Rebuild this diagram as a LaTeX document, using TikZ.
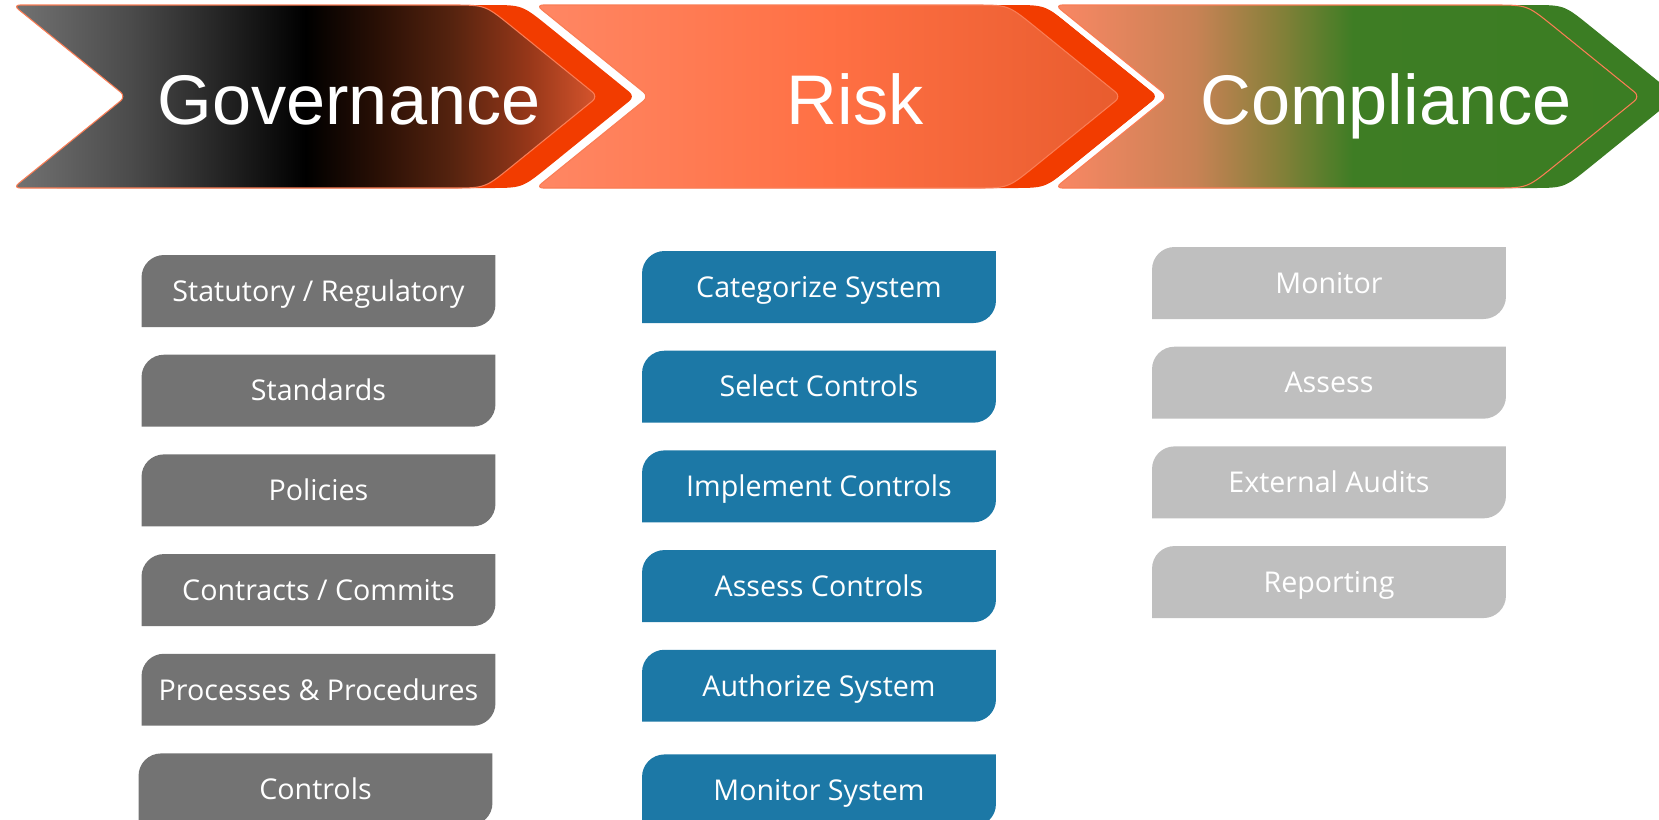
\documentclass[tikz,border=0pt]{standalone}
\usepackage{fontspec}
\setmainfont{Open Sans}
\newfontfamily\headfont{Liberation Sans}
\usetikzlibrary{positioning}

\definecolor{govback}{RGB}{242,60,0}
\definecolor{riskback}{RGB}{242,60,0}
\definecolor{compback}{RGB}{59,125,35}
\definecolor{chevline}{RGB}{250,125,85}
\definecolor{govfill}{RGB}{115,115,115}
\definecolor{riskfill}{RGB}{28,120,166}
\definecolor{compfill}{RGB}{191,191,191}

\pgfdeclarehorizontalshading{govshade}{100bp}{color(0bp)=(rgb,255:red,115;green,115;blue,115);
  color(25bp)=(rgb,255:red,115;green,115;blue,115); color(35bp)=(rgb,255:red,75;green,75;blue,75);
  color(45bp)=(rgb,255:red,25;green,25;blue,25); color(50bp)=(black);
  color(56bp)=(rgb,255:red,40;green,15;blue,5); color(62.5bp)=(rgb,255:red,85;green,35;blue,15);
  color(69bp)=(rgb,255:red,150;green,55;blue,25); color(75bp)=(rgb,255:red,215;green,85;blue,45);
  color(100bp)=(rgb,255:red,215;green,85;blue,45)}
\pgfdeclarehorizontalshading{riskshade}{100bp}{color(0bp)=(rgb,255:red,255;green,135;blue,100);
  color(25bp)=(rgb,255:red,255;green,135;blue,100); color(50bp)=(rgb,255:red,255;green,112;blue,68);
  color(75bp)=(rgb,255:red,232;green,92;blue,46); color(100bp)=(rgb,255:red,232;green,92;blue,46)}
\pgfdeclarehorizontalshading{compshade}{100bp}{color(0bp)=(rgb,255:red,250;green,135;blue,100);
  color(25bp)=(rgb,255:red,250;green,135;blue,100); color(37bp)=(rgb,255:red,200;green,130;blue,85);
  color(44bp)=(rgb,255:red,135;green,128;blue,58); color(50.5bp)=(rgb,255:red,62;green,125;blue,36);
  color(75bp)=(rgb,255:red,59;green,125;blue,35); color(100bp)=(rgb,255:red,59;green,125;blue,35)}

\tikzset{
  tag/.style={minimum width=7.08cm, minimum height=1.44cm, inner sep=0pt,
    text height=11.7pt, text depth=0pt, text=white, font=\fontsize{16.3}{19}\selectfont,
    path picture={\fill[#1] (path picture bounding box.south west)
      -- ([yshift=-0.45cm]path picture bounding box.north west)
      .. controls ([yshift=-0.2cm]path picture bounding box.north west)
         and ([xshift=0.2cm]path picture bounding box.north west)
      .. ([xshift=0.45cm]path picture bounding box.north west)
      -- (path picture bounding box.north east)
      -- ([yshift=0.45cm]path picture bounding box.south east)
      .. controls ([yshift=0.2cm]path picture bounding box.south east)
         and ([xshift=-0.2cm]path picture bounding box.south east)
      .. ([xshift=-0.45cm]path picture bounding box.south east)
      -- cycle;}},
  govtag/.style={tag=govfill},
  risktag/.style={tag=riskfill},
  comptag/.style={tag=compfill},
  head/.style={anchor=base, text=white, inner sep=0pt, font=\headfont\fontsize{40}{48}\selectfont},
}

\begin{document}
\begin{tikzpicture}[x=0.02cm, y=-0.02cm, node distance=0.54cm,
    chev/.style 2 args={insert path={(#1,5) -- (#1+113,96.5) -- (#1,188) -- (#2-153,188)
      .. controls (#2-113,188) .. (#2-82,163) -- (#2,96.5) -- (#2-82,30)
      .. controls (#2-113,5) .. (#2-153,5) -- cycle}}]

  \useasboundingbox (0,0) rectangle (1659,819);

  % header chevrons
  \foreach \l/\t/\shd/\bk in {13/598/govshade/govback, 536/1121/riskshade/riskback, 1055/1640/compshade/compback}{
    \draw[white, line width=7pt, line join=round] [chev={\l}{\t}];
    \fill[\bk, rounded corners=4pt] [chev={\l+37}{\t+37}];
    \shade[shading=\shd, draw=chevline, line width=0.6pt, rounded corners=4pt] [chev={\l}{\t}];
  }

  \node[head] (governance) at (349,124) {Governance};
  \node[head] (risk)       at (855,124) {Risk};
  \node[head] (compliance) at (1386,124) {Compliance};

  % governance
  \node[govtag] (statutory) at (318.5,291) {Statutory / Regulatory};
  \node[govtag] (standards) [below=of statutory] {Standards};
  \node[govtag] (policies)  [below=of standards] {Policies};
  \node[govtag] (contracts) [below=of policies]  {Contracts / Commits};
  \node[govtag] (processes) [below=of contracts] {Processes \& Procedures};
  \node[govtag] (controls)  [below=of processes, xshift=-0.06cm] {Controls};

  % risk
  \node[risktag] (categorize) at (819,287) {Categorize System};
  \node[risktag] (select)     [below=of categorize] {Select Controls};
  \node[risktag] (implement)  [below=of select]     {Implement Controls};
  \node[risktag] (assessctl)  [below=of implement]  {Assess Controls};
  \node[risktag] (authorize)  [below=of assessctl]  {Authorize System};
  \node[risktag] (monitorsys) [below=of authorize, yshift=-0.1cm] {Monitor System};

  % compliance
  \node[comptag] (monitor)   at (1329,283) {Monitor};
  \node[comptag] (assess)    [below=of monitor] {Assess};
  \node[comptag] (audits)    [below=of assess]  {External Audits};
  \node[comptag] (reporting) [below=of audits]  {Reporting};
\end{tikzpicture}
\end{document}
